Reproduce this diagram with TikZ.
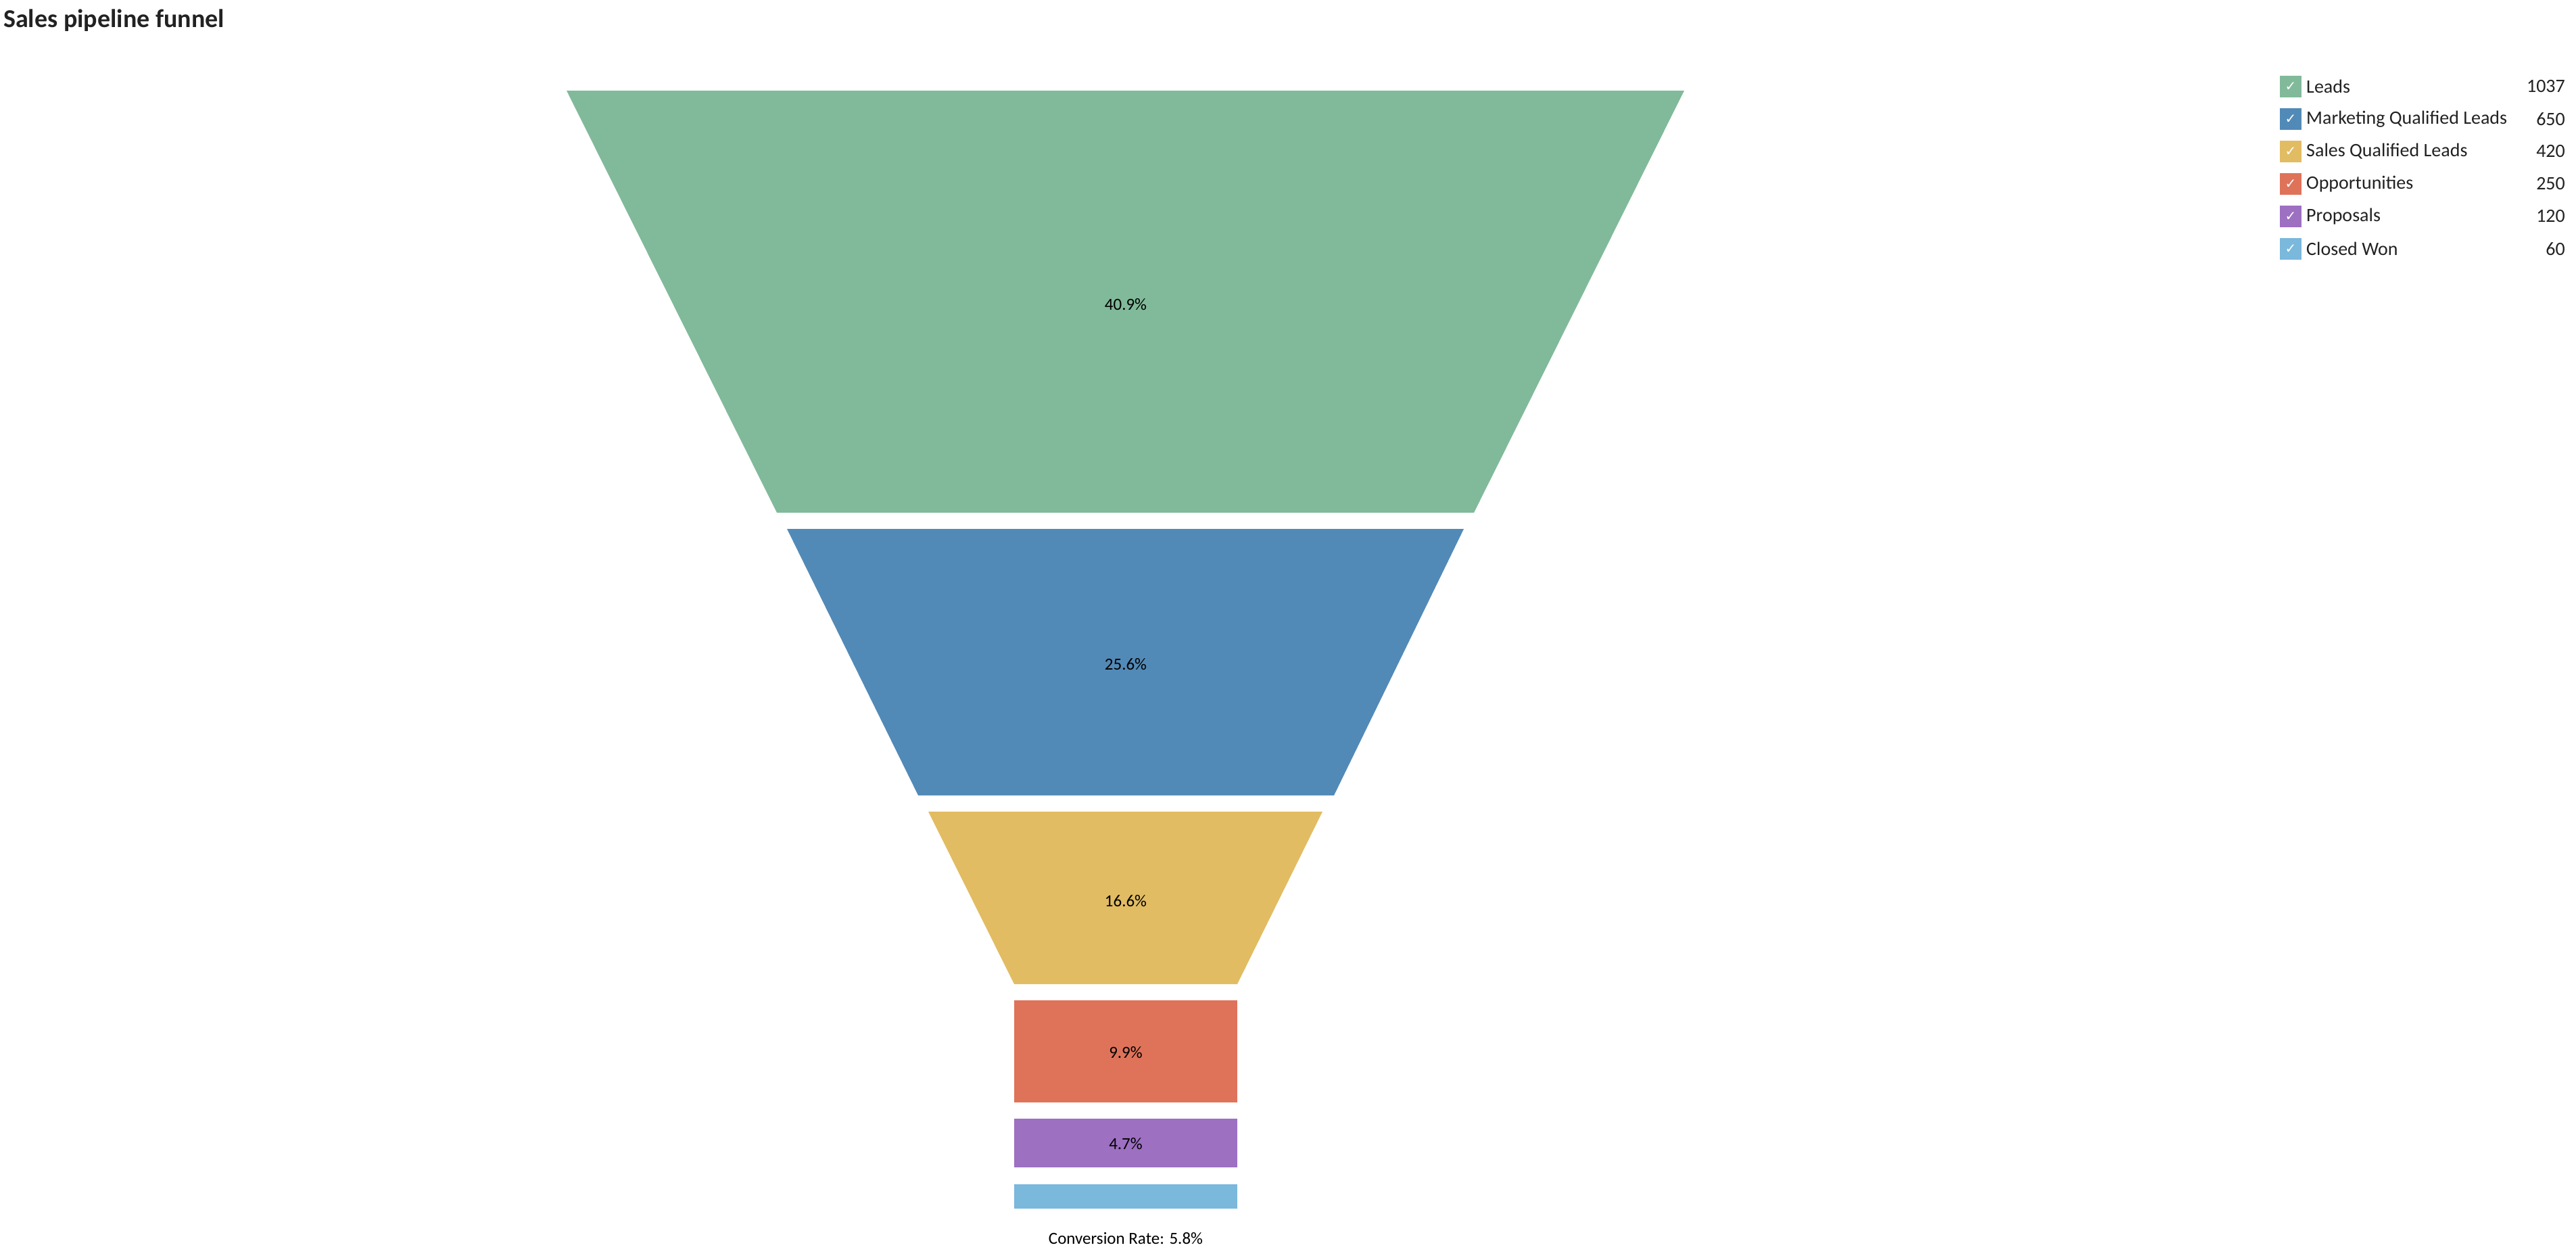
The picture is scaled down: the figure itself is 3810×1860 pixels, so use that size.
\documentclass[tikz,border=0pt]{standalone}
\usepackage{fontspec}
\setmainfont{Carlito}
\newfontfamily\symf{DejaVu Sans}
\definecolor{cgreen}{HTML}{81BA9A}
\definecolor{cblue}{HTML}{528AB7}
\definecolor{cyellow}{HTML}{E2BC63}
\definecolor{cred}{HTML}{DF735A}
\definecolor{cpurple}{HTML}{9D70C2}
\definecolor{clblue}{HTML}{7AB8DC}
\definecolor{ctext}{HTML}{222222}
\begin{document}
\begin{tikzpicture}[x=1pt,y=-1pt,
  pct/.style={font=\fontsize{25}{30}\selectfont, text=black},
  leg/.style={font=\fontsize{28}{32}\selectfont, text=ctext, anchor=west, inner sep=0},
  val/.style={font=\fontsize{28}{32}\selectfont, text=ctext, anchor=east, inner sep=0},
  sq/.style={minimum size=32pt, inner sep=0, text=white, font=\symf\fontsize{20}{22}\selectfont}]
\useasboundingbox (0,0) rectangle (3810,1860);
\node[anchor=west, font=\bfseries\fontsize{38}{44}\selectfont, text=ctext, inner sep=0] (title) at (5,30) {Sales pipeline funnel};
% funnel
\fill[cgreen] (838,134) -- (2491,134) -- (2180,758) -- (1149,758) -- cycle;
\fill[cblue] (1164,782) -- (2165,782) -- (1973,1176) -- (1358,1176) -- cycle;
\fill[cyellow] (1373,1200) -- (1956,1200) -- (1830,1455) -- (1500,1455) -- cycle;
\fill[cred] (1500,1479) rectangle (1830,1630);
\fill[cpurple] (1500,1654) rectangle (1830,1726);
\fill[clblue] (1500,1751) rectangle (1830,1787);
\node[pct] (p1) at (1665,450) {40.9\%};
\node[pct] (p2) at (1665,982) {25.6\%};
\node[pct] (p3) at (1665,1332) {16.6\%};
\node[pct] (p4) at (1665,1556) {9.9\%};
\node[pct] (p5) at (1665,1691) {4.7\%};
\node[pct] (conv) at (1665,1831) {Conversion Rate: 5.8\%};
% legend
\foreach \c/\t/\v [count=\i] in {cgreen/Leads/1037, cblue/Marketing Qualified Leads/650, cyellow/Sales Qualified Leads/420, cred/Opportunities/250, cpurple/Proposals/120, clblue/Closed Won/60}{
  \node[sq, fill=\c] (s\i) at (3388,{128+48*(\i-1)}) {✓};
  \node[leg] (l\i) at (3411,{128+48*(\i-1)}) {\t};
  \node[val] (v\i) at (3794,{128+48*(\i-1)}) {\v};
}
\end{tikzpicture}
\end{document}
